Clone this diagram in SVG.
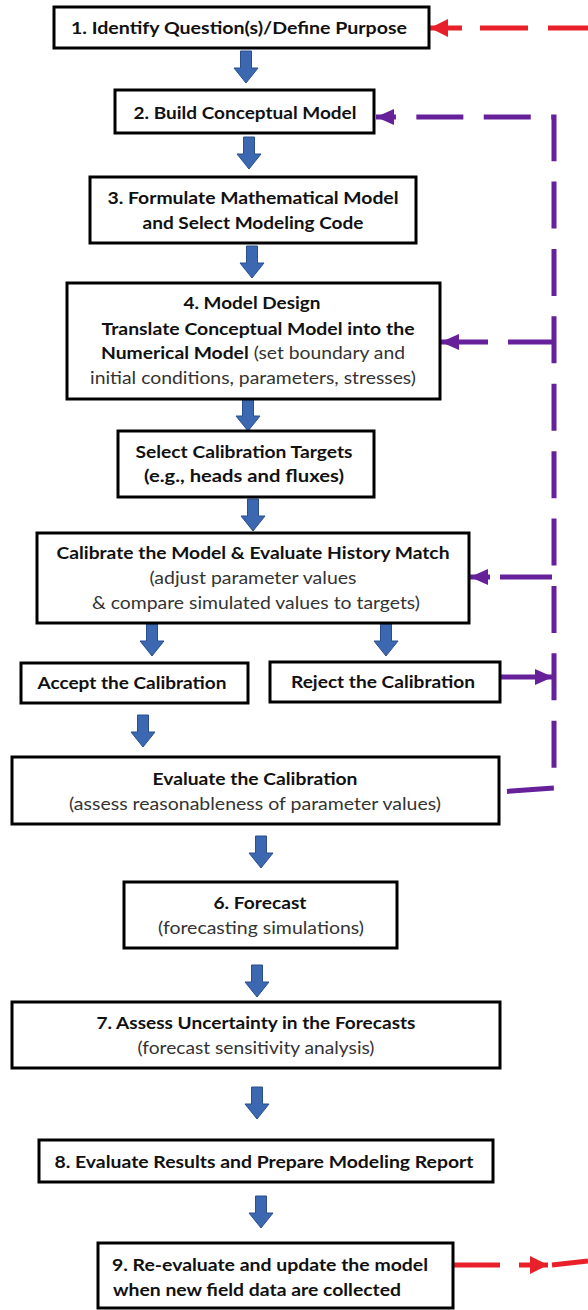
<svg xmlns="http://www.w3.org/2000/svg" width="588" height="1310" viewBox="0 0 588 1310">
<defs>
<style>
.box{fill:#fff;stroke:#000;stroke-width:3}
.t{font-family:Lato,"Liberation Sans",sans-serif;font-size:17.5px;fill:#111;text-anchor:middle}
.s{text-anchor:start}
.b{font-weight:bold}
.r{font-weight:normal;fill:#333}
.blue{fill:#3b68b1;stroke:#2a4f8c;stroke-width:1}
.pur{fill:none;stroke:#65209a;stroke-width:5}
.red{fill:none;stroke:#e8202a;stroke-width:5}
</style>
<path id="ba" d="M-5.5,0 H5.5 V17 H12 L0,32 L-12,17 H-5.5 Z"/>
<marker id="mp" markerUnits="userSpaceOnUse" markerWidth="18" markerHeight="16" viewBox="0 0 18 16" refX="18" refY="8" orient="auto"><path d="M0,0 L18,8 L0,16 Z" fill="#65209a"/></marker>
<marker id="mr" markerUnits="userSpaceOnUse" markerWidth="18" markerHeight="18" viewBox="0 0 18 18" refX="18" refY="9" orient="auto"><path d="M0,0 L18,9 L0,18 Z" fill="#e8202a"/></marker>
</defs>

<g id="connectors">
<use href="#ba" class="blue" x="246" y="51"/>
<use href="#ba" class="blue" x="249" y="137"/>
<use href="#ba" class="blue" x="252" y="246"/>
<use href="#ba" class="blue" x="248" y="399"/>
<use href="#ba" class="blue" x="253" y="499"/>
<use href="#ba" class="blue" x="152" y="624"/>
<use href="#ba" class="blue" x="386" y="624"/>
<use href="#ba" class="blue" x="143" y="715"/>
<use href="#ba" class="blue" x="261" y="836"/>
<use href="#ba" class="blue" x="257" y="965"/>
<use href="#ba" class="blue" x="257" y="1087"/>
<use href="#ba" class="blue" x="261" y="1196"/>
<path class="pur" d="M499,792 L554,788 V117 H376" stroke-dasharray="47 20.4" stroke-dashoffset="59.4" marker-end="url(#mp)"/>
<path class="pur" d="M554,342 H508 M488,342 H441" marker-end="url(#mp)"/>
<path class="pur" d="M552,577 H500 M490,577 H470" marker-end="url(#mp)"/>
<path class="pur" d="M500,677 H553" marker-end="url(#mp)"/>
<path class="red" d="M588,28 H548 M528,28 H480 M462,28 H430" marker-end="url(#mr)"/>
<path class="red" d="M453,1265 H500 M552,1265 L588,1261 M519,1265 H548" marker-end="url(#mr)"/>
</g>

<g id="n1"><rect class="box" x="54" y="7" width="375" height="41"/>
<text class="t b" x="239" y="34" textLength="336" lengthAdjust="spacingAndGlyphs">1.  Identify Question(s)/Define Purpose</text></g>

<g id="n2"><rect class="box" x="115" y="90" width="259" height="43"/>
<text class="t b" x="245" y="119" textLength="223" lengthAdjust="spacingAndGlyphs">2. Build Conceptual Model</text></g>

<g id="n3"><rect class="box" x="90" y="177" width="326" height="66"/>
<text class="t b" x="253" y="204" textLength="291" lengthAdjust="spacingAndGlyphs">3. Formulate Mathematical Model</text>
<text class="t b" x="253" y="229" textLength="221" lengthAdjust="spacingAndGlyphs">and Select Modeling Code</text></g>

<g id="n4"><rect class="box" x="67" y="283" width="373" height="116"/>
<text class="t b" x="252" y="309" textLength="137" lengthAdjust="spacingAndGlyphs">4. Model Design</text>
<text class="t b" x="258" y="335" textLength="313" lengthAdjust="spacingAndGlyphs">Translate Conceptual Model into the</text>
<text class="t" x="253" y="359" textLength="304" lengthAdjust="spacingAndGlyphs"><tspan class="b">Numerical Model</tspan><tspan class="r"> (set boundary and</tspan></text>
<text class="t r" x="253" y="384" textLength="326" lengthAdjust="spacingAndGlyphs">initial conditions, parameters, stresses)</text></g>

<g id="n5"><rect class="box" x="118" y="431" width="256" height="66"/>
<text class="t b" x="244" y="458" textLength="217" lengthAdjust="spacingAndGlyphs">Select Calibration Targets</text>
<text class="t b" x="244" y="482" textLength="200" lengthAdjust="spacingAndGlyphs">(e.g.,  heads and fluxes)</text></g>

<g id="n6"><rect class="box" x="37" y="533" width="432" height="90"/>
<text class="t b" x="253" y="559" textLength="393" lengthAdjust="spacingAndGlyphs">Calibrate the Model &amp; Evaluate History Match</text>
<text class="t r" x="253" y="584" textLength="207" lengthAdjust="spacingAndGlyphs">(adjust parameter values</text>
<text class="t r" x="256" y="609" textLength="328" lengthAdjust="spacingAndGlyphs">&amp; compare simulated values to targets)</text></g>

<g id="accept"><rect class="box" x="21" y="663" width="227" height="40"/>
<text class="t b" x="132" y="689" textLength="189" lengthAdjust="spacingAndGlyphs">Accept the Calibration</text></g>

<g id="reject"><rect class="box" x="270" y="662" width="230" height="40"/>
<text class="t b" x="383" y="688" textLength="184" lengthAdjust="spacingAndGlyphs">Reject the Calibration</text></g>

<g id="n5eval"><rect class="box" x="12" y="757" width="487" height="67"/>
<text class="t b" x="255" y="785" textLength="205" lengthAdjust="spacingAndGlyphs">Evaluate the Calibration</text>
<text class="t r" x="255" y="810" textLength="372" lengthAdjust="spacingAndGlyphs">(assess reasonableness of parameter values)</text></g>

<g id="n6f"><rect class="box" x="124" y="882" width="273" height="66"/>
<text class="t b" x="260" y="909" textLength="93" lengthAdjust="spacingAndGlyphs">6. Forecast</text>
<text class="t r" x="261" y="934" textLength="206" lengthAdjust="spacingAndGlyphs">(forecasting simulations)</text></g>

<g id="n7"><rect class="box" x="12" y="1002" width="488" height="66"/>
<text class="t b" x="256" y="1029" textLength="319" lengthAdjust="spacingAndGlyphs">7. Assess Uncertainty in the Forecasts</text>
<text class="t r" x="256" y="1054" textLength="237" lengthAdjust="spacingAndGlyphs">(forecast sensitivity analysis)</text></g>

<g id="n8"><rect class="box" x="39" y="1140" width="454" height="42"/>
<text class="t b" x="264" y="1168" textLength="419" lengthAdjust="spacingAndGlyphs">8. Evaluate Results and Prepare Modeling Report</text></g>

<g id="n9"><rect class="box" x="98" y="1243" width="355" height="65"/>
<text class="t b s" x="112" y="1271" textLength="316" lengthAdjust="spacingAndGlyphs">9. Re-evaluate and update the model</text>
<text class="t b s" x="113" y="1296" textLength="288" lengthAdjust="spacingAndGlyphs">when new field data are collected</text></g>
</svg>
